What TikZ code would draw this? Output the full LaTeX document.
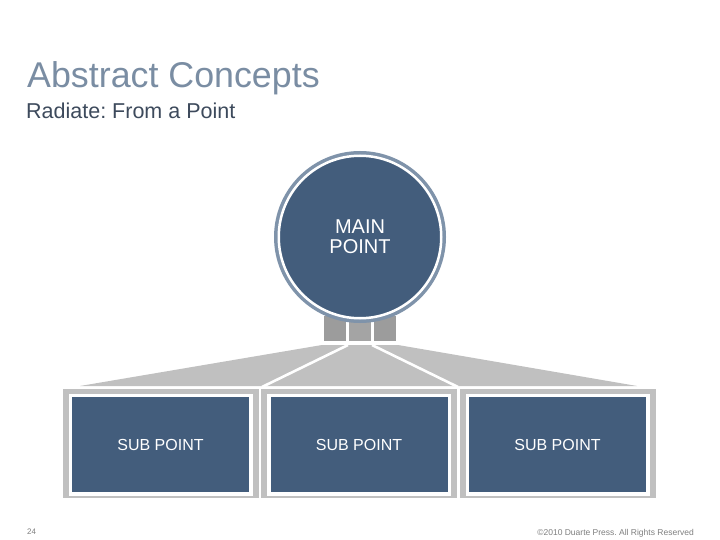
\documentclass[tikz,border=0pt]{standalone}
\usepackage{fontspec}
\setmainfont{Liberation Sans}
\frenchspacing
\definecolor{darkslate}{HTML}{435D7C}
\definecolor{ringc}{HTML}{7F93AA}
\definecolor{titlec}{HTML}{7A8DA3}
\definecolor{subc}{HTML}{3D4A5C}
\definecolor{framec}{HTML}{C0C0C0}
\definecolor{sqc}{HTML}{9C9C9C}
\definecolor{sqm}{HTML}{A4A4A4}
\definecolor{footc}{HTML}{7F7F7F}
\tikzset{
  frame/.style={fill=framec, draw=none, minimum width=196pt, minimum height=109pt, inner sep=0pt},
  subbox/.style={fill=darkslate, draw=white, line width=3.5pt, minimum width=180.5pt, minimum height=98.5pt, inner sep=0pt, text=white, font=\fontsize{16}{19}\selectfont},
  mainc/.style={circle, fill=darkslate, draw=white, line width=2.5pt, minimum size=162.5pt, inner sep=0pt, text=white, align=center, font=\fontsize{20}{20}\selectfont},
  sq/.style={fill=sqc, draw=none},
  sep/.style={draw=white, line width=2.6pt},
}
\begin{document}
\begin{tikzpicture}[x=1pt,y=-1pt]
\useasboundingbox[fill=white] (0,0) rectangle (720,540);
% titles
\node[anchor=base west, inner sep=0pt, text=titlec, font=\fontsize{35.8}{40}\selectfont] (title) at (27,88) {Abstract Concepts};
\node[anchor=base west, inner sep=0pt, text=subc, font=\fontsize{21.5}{24}\selectfont] (subtitle) at (26,119) {Radiate: From a Point};
% small squares under the circle
\fill[sqc] (324,316) rectangle (346,341);
\fill[sqm] (349,316) rectangle (371,341);
\fill[sqc] (374,316) rectangle (396,341);
% fan
\fill[framec] (80,386) -- (322,345) -- (398,345) -- (637,386) -- cycle;
\coordinate (s1t) at (348,345);
\coordinate (s1b) at (262,387);
\coordinate (s2t) at (372,345);
\coordinate (s2b) at (458,387);
\draw[sep] (s1t) -- (s1b);
\draw[sep] (s2t) -- (s2b);
% main circle
\coordinate (mc) at (360,237);
\draw[ringc, line width=4pt] (mc) circle (84);
\node[mainc] (main) at (mc) {MAIN\\POINT};
% boxes
\node[frame] (f1) at (160.5,443.5) {};
\node[frame] (f2) at (359,443.5) {};
\node[frame] (f3) at (557.5,443.5) {};
\node[subbox] (sub1) at (160.5,444.5) {SUB POINT};
\node[subbox] (sub2) at (359,444.5) {SUB POINT};
\node[subbox] (sub3) at (557.5,444.5) {SUB POINT};
% footer
\node[anchor=base west, inner sep=0pt, text=footc, font=\fontsize{8}{9}\selectfont] (page) at (27,534) {24};
\node[anchor=base east, inner sep=0pt, text=footc, font=\fontsize{8.5}{9}\selectfont] (copy) at (694,535) {©2010 Duarte Press. All Rights Reserved};
\end{tikzpicture}
\end{document}
